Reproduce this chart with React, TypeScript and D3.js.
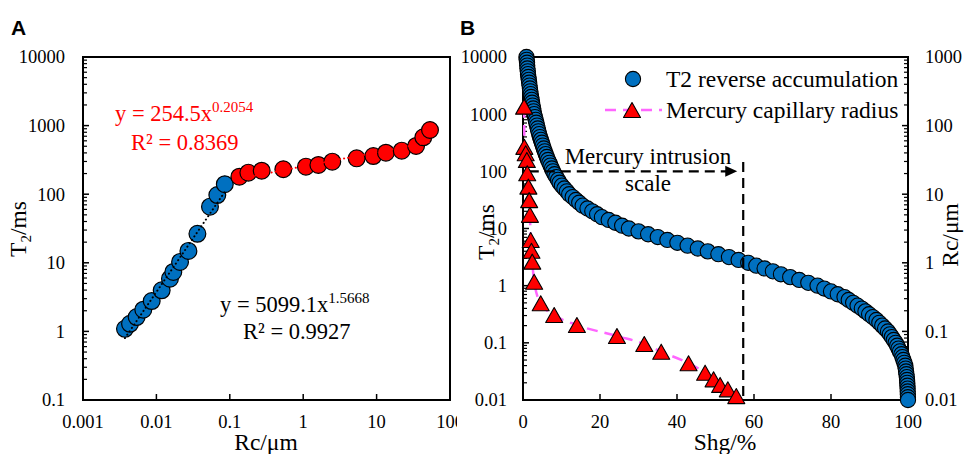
import React from 'react';
import * as d3 from 'd3';

// ---------- Panel A data ----------
const aBlueRc = [0.00373, 0.00437, 0.00538, 0.00663, 0.00863, 0.0118, 0.0153, 0.017, 0.021, 0.0273, 0.0362, 0.0537, 0.0676, 0.0855];
const aBlueT2 = [1.09, 1.29, 1.62, 2.07, 2.77, 3.97, 5.86, 7.35, 10.3, 14.9, 26.5, 65.8, 97.3, 140];
const aRedRc = [0.135, 0.179, 0.272, 0.536, 1.09, 1.61, 2.49, 5.35, 9.02, 13.4, 22, 34.5, 43.3, 53.4];
const aRedT2 = [180, 206, 220, 231, 252, 267, 298, 333, 360, 403, 431, 505, 675, 863];
const fitBlue = [5099.1, 1.5668]; // y = a x^b
const fitRed = [254.5, 0.2054];
const aXTicks = [0.001, 0.01, 0.1, 1, 10, 100];
const aXLabels = ['0.001', '0.01', '0.1', '1', '10', '100'];
const aYTicks = [0.1, 1, 10, 100, 1000, 10000];
const aYLabels = ['0.1', '1', '10', '100', '1000', '10000'];

// ---------- Panel B data ----------
const bT2 = [10000, 8913, 7943, 7079, 6310, 5623, 5012, 4467, 3981, 3548, 3162, 2818, 2512, 2239, 1995, 1778, 1585, 1413, 1259, 1122,
  1000, 891, 794, 708, 631, 562, 501, 447, 398, 355, 316, 282, 251, 224, 200, 178, 158, 141, 126, 112,
  100, 89.1, 79.4, 70.8, 63.1, 56.2, 50.1, 44.7, 39.8, 35.5, 31.6, 28.2, 25.1, 22.4, 20, 17.8, 15.8, 14.1, 12.6, 11.2,
  10, 8.91, 7.94, 7.08, 6.31, 5.62, 5.01, 4.47, 3.98, 3.55, 3.16, 2.82, 2.51, 2.24, 2, 1.78, 1.58, 1.41, 1.26, 1.12,
  1, 0.891, 0.794, 0.708, 0.631, 0.562, 0.501, 0.447, 0.398, 0.355, 0.316, 0.282, 0.251, 0.224, 0.2, 0.178, 0.158, 0.141, 0.126, 0.112,
  0.1, 0.0891, 0.0794, 0.0708, 0.0631, 0.0562, 0.0501, 0.0447, 0.0398, 0.0355, 0.0316, 0.0282, 0.0251, 0.0224, 0.02, 0.0178, 0.0158, 0.0141, 0.0126, 0.0112, 0.01];
const bShg = [0.9, 0.95, 1.05, 1.1, 1.15, 1.25, 1.3, 1.4, 1.5, 1.6, 1.7, 1.8, 1.9, 2.0, 2.1, 2.25, 2.35, 2.5, 2.65, 2.75,
  2.9, 3.1, 3.3, 3.45, 3.65, 3.85, 4.0, 4.2, 4.4, 4.65, 4.9, 5.15, 5.4, 5.65, 5.9, 6.2, 6.5, 6.85, 7.15, 7.5,
  7.8, 8.2, 8.65, 9.1, 9.5, 10.1, 10.75, 11.4, 12.0, 12.9, 13.75, 14.6, 15.5, 16.75, 18.0, 19.25, 20.5, 22.25, 24.0, 25.75,
  27.5, 30.0, 32.5, 35.0, 37.5, 40.1, 42.75, 45.4, 48.0, 50.75, 53.5, 56.0, 58.5, 60.6, 62.75, 64.9, 67.0, 69.4, 71.75, 74.1,
  76.5, 78.25, 80.0, 81.75, 83.5, 84.6, 85.75, 86.9, 88.0, 88.95, 89.9, 90.85, 91.8, 92.55, 93.3, 94.05, 94.8, 95.3, 95.8, 96.3,
  96.8, 97.2, 97.55, 97.9, 98.3, 98.55, 98.8, 99.05, 99.3, 99.4, 99.5, 99.6, 99.7, 99.75, 99.8, 99.85, 99.9, 99.92, 99.95, 99.98, 100];
const mShg = [0.3, 0.35, 0.7, 1.0, 1.1, 1.4, 1.6, 1.8, 2.0, 2.2, 2.4, 2.9, 4.6, 8.1, 14.0, 24.4, 31.5, 35.9, 43.0, 47.3, 49.5, 51.2, 53.2, 55.4];
const mRc = [189, 49, 39.5, 31.6, 20.2, 12.9, 8.2, 5.0, 2.15, 1.5, 1.04, 0.53, 0.257, 0.173, 0.124, 0.0857, 0.0655, 0.0506, 0.0343, 0.025, 0.02, 0.0166, 0.0143, 0.0114];
const bXTicks = [0, 20, 40, 60, 80, 100];
const bYLTicks = [0.01, 0.1, 1, 10, 100, 1000, 10000];
const bYLLabels = ['0.01', '0.1', '1', '10', '100', '1000', '10000'];
const bYRTicks = [0.01, 0.1, 1, 10, 100, 1000];
const bYRLabels = ['0.01', '0.1', '1', '10', '100', '1000'];
const intrusionT2 = 100;
const intrusionShg = 57.2;

const FONT = '"Liberation Serif", "Times New Roman", serif';
const BLUE = '#0070C0';
const RED = '#FF0000';
const PINK = '#FF66FF';

function minors(lo: number, hi: number) {
  const out: number[] = [];
  for (let e = Math.round(Math.log10(lo)); e < Math.round(Math.log10(hi)); e++) {
    for (let m = 2; m <= 9; m++) out.push(m * Math.pow(10, e));
  }
  return out;
}

function tri(x: number, y: number, w = 17, h = 15) {
  return `M${x},${y - h / 2}L${x + w / 2},${y + h / 2}L${x - w / 2},${y + h / 2}Z`;
}

export default function App() {
  const ax = d3.scaleLog().domain([0.001, 100]).range([83, 450]);
  const ay = d3.scaleLog().domain([0.1, 10000]).range([400, 57]);
  const bx = d3.scaleLinear().domain([0, 100]).range([523, 908]);
  const byL = d3.scaleLog().domain([0.01, 10000]).range([400, 57]);
  const byR = d3.scaleLog().domain([0.01, 1000]).range([400, 57]);

  const fitLine = (fit: number[], xs: number[]) => {
    const lo = d3.min(xs) as number, hi = d3.max(xs) as number;
    const pts = d3.range(0, 61).map(i => Math.exp(Math.log(lo) + (Math.log(hi) - Math.log(lo)) * i / 60));
    return d3.line<number>().x(v => ax(v)).y(v => ay(fit[0] * Math.pow(v, fit[1])))(pts) as string;
  };

  const mLine = d3.line<number>().x((_, i) => bx(mShg[i])).y((_, i) => byR(mRc[i])).curve(d3.curveMonotoneX)(mShg) as string;

  const tickFont = { fontFamily: FONT, fontSize: 18.5, fill: '#000' } as const;
  const titleFont = { fontFamily: FONT, fontSize: 23.5, fill: '#000' } as const;

  return (
    <svg width={965} height={454} style={{ position: 'absolute', left: 0, top: 0, background: '#fff' }}>
      <defs>
        <clipPath id="clipA"><rect x={0} y={0} width={457} height={454} /></clipPath>
      </defs>
      <rect x={0} y={0} width={965} height={454} fill="#fff" />

      {/* ===== Panel A ===== */}
      <g clipPath="url(#clipA)">
        <text x={11} y={35} fontFamily='"Liberation Sans", Arial, sans-serif' fontWeight="bold" fontSize={21}>A</text>
        {minors(0.1, 10000).map((v, i) => (
          <line key={'amy' + i} x1={83} x2={87} y1={ay(v)} y2={ay(v)} stroke="#000" strokeWidth={1.2} />
        ))}
        {aYTicks.map((v, i) => (
          <g key={'ay' + i}>
            <line x1={83} x2={89} y1={ay(v)} y2={ay(v)} stroke="#000" strokeWidth={1.5} />
            <text x={65} y={ay(v)} dy="0.35em" textAnchor="end" {...tickFont}>{aYLabels[i]}</text>
          </g>
        ))}
        {aXTicks.map((v, i) => (
          <g key={'ax' + i}>
            <line x1={ax(v)} x2={ax(v)} y1={400} y2={394} stroke="#000" strokeWidth={1.5} />
            <text x={ax(v)} y={428} textAnchor="middle" {...tickFont}>{aXLabels[i]}</text>
          </g>
        ))}
        <rect x={83} y={57} width={367} height={343} fill="none" stroke="#000" strokeWidth={2} />

        {aBlueRc.map((v, i) => (
          <circle key={'ab' + i} cx={ax(v)} cy={ay(aBlueT2[i])} r={8.4} fill={BLUE} stroke="#000" strokeWidth={1.2} />
        ))}
        {aRedRc.map((v, i) => (
          <circle key={'ar' + i} cx={ax(v)} cy={ay(aRedT2[i])} r={8.4} fill={RED} stroke="#000" strokeWidth={1.2} />
        ))}
        <path d={fitLine(fitBlue, aBlueRc)} fill="none" stroke="#000" strokeWidth={2} strokeDasharray="0.1 4" strokeLinecap="round" />
        <path d={fitLine(fitRed, aRedRc)} fill="none" stroke={RED} strokeWidth={2} strokeDasharray="0.1 4" strokeLinecap="round" />

        <text x={115} y={121} fontFamily={FONT} fontSize={22.5} fill={RED}>
          y = 254.5x<tspan fontSize={15} dy={-9}>0.2054</tspan>
        </text>
        <text x={131} y={150} fontFamily={FONT} fontSize={22.5} fill={RED}>R² = 0.8369</text>
        <text x={220} y={312} fontFamily={FONT} fontSize={22.5} fill="#000">
          y = 5099.1x<tspan fontSize={15} dy={-9}>1.5668</tspan>
        </text>
        <text x={243} y={339} fontFamily={FONT} fontSize={22.5} fill="#000">R² = 0.9927</text>

        <text x={266} y={450} textAnchor="middle" {...titleFont}>Rc/μm</text>
        <text transform="translate(26,229) rotate(-90)" textAnchor="middle" {...titleFont}>
          T<tspan fontSize={15} dy={5}>2</tspan><tspan dy={-5}>/ms</tspan>
        </text>
      </g>

      {/* ===== Panel B ===== */}
      <text x={460} y={35} fontFamily='"Liberation Sans", Arial, sans-serif' fontWeight="bold" fontSize={21}>B</text>
      {minors(0.01, 10000).map((v, i) => (
        <line key={'bml' + i} x1={523} x2={527} y1={byL(v)} y2={byL(v)} stroke="#000" strokeWidth={1.2} />
      ))}
      {minors(0.01, 1000).map((v, i) => (
        <line key={'bmr' + i} x1={908} x2={904} y1={byR(v)} y2={byR(v)} stroke="#000" strokeWidth={1.2} />
      ))}
      {bYLTicks.map((v, i) => (
        <g key={'byl' + i}>
          <line x1={523} x2={529} y1={byL(v)} y2={byL(v)} stroke="#000" strokeWidth={1.5} />
          <text x={507} y={byL(v)} dy="0.35em" textAnchor="end" {...tickFont}>{bYLLabels[i]}</text>
        </g>
      ))}
      {bYRTicks.map((v, i) => (
        <g key={'byr' + i}>
          <line x1={908} x2={902} y1={byR(v)} y2={byR(v)} stroke="#000" strokeWidth={1.5} />
          <text x={925} y={byR(v)} dy="0.35em" textAnchor="start" {...tickFont}>{bYRLabels[i]}</text>
        </g>
      ))}
      {bXTicks.map((v, i) => (
        <g key={'bx' + i}>
          <line x1={bx(v)} x2={bx(v)} y1={400} y2={394} stroke="#000" strokeWidth={1.5} />
          <text x={bx(v)} y={428} textAnchor="middle" {...tickFont}>{String(v)}</text>
        </g>
      ))}
      <rect x={523} y={57} width={385} height={343} fill="none" stroke="#000" strokeWidth={2} />

      {bShg.map((v, i) => (
        <circle key={'bb' + i} cx={bx(v)} cy={byL(bT2[i])} r={7.6} fill={BLUE} stroke="#000" strokeWidth={1.1} />
      ))}

      {/* intrusion annotation */}
      <line x1={bx(1.5)} x2={bx(intrusionShg) - 12} y1={byL(intrusionT2)} y2={byL(intrusionT2)} stroke="#000" strokeWidth={2.2} strokeDasharray="10 6" />
      <path d={`M${bx(intrusionShg) - 6},${byL(intrusionT2)}l-12,-5.5l0,11Z`} fill="#000" />
      <line x1={bx(intrusionShg)} x2={bx(intrusionShg)} y1={162} y2={400} stroke="#000" strokeWidth={2.2} strokeDasharray="10 6" />
      <text x={648} y={164} textAnchor="middle" fontFamily={FONT} fontSize={23} fill="#000">Mercury intrusion</text>
      <text x={648} y={191} textAnchor="middle" fontFamily={FONT} fontSize={23} fill="#000">scale</text>

      <path d={mLine} fill="none" stroke={PINK} strokeWidth={2.5} strokeDasharray="11 7" />
      {mShg.map((v, i) => (
        <path key={'mt' + i} d={tri(bx(v), byR(mRc[i]))} fill={RED} stroke="#000" strokeWidth={1.1} strokeLinejoin="round" />
      ))}

      {/* legend */}
      <circle cx={633} cy={79} r={7.6} fill={BLUE} stroke="#000" strokeWidth={1.1} />
      <text x={666} y={87} fontFamily={FONT} fontSize={23.5} fill="#000">T2 reverse accumulation</text>
      <line x1={605} x2={662} y1={110} y2={110} stroke={PINK} strokeWidth={2.5} strokeDasharray="11 7" />
      <path d={tri(632, 110)} fill={RED} stroke="#000" strokeWidth={1.1} strokeLinejoin="round" />
      <text x={666} y={118} fontFamily={FONT} fontSize={23.5} fill="#000">Mercury capillary radius</text>

      <text x={725} y={450} textAnchor="middle" {...titleFont}>Shg/%</text>
      <text transform="translate(494,232) rotate(-90)" textAnchor="middle" {...titleFont}>
        T<tspan fontSize={15} dy={5}>2</tspan><tspan dy={-5}>/ms</tspan>
      </text>
      <text transform="translate(958,235) rotate(-90)" textAnchor="middle" {...titleFont}>Rc/μm</text>
    </svg>
  );
}
